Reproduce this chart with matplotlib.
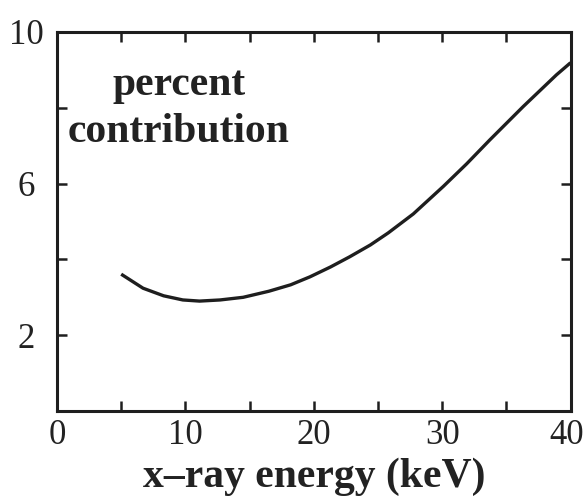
import matplotlib
matplotlib.use("Agg")
import matplotlib.pyplot as plt
from matplotlib.transforms import ScaledTranslation

# Data
energy_kev = [5.0, 6.7, 8.3, 9.8, 11.1, 12.7, 14.5, 16.5, 18.2, 19.7, 21.3,
              22.8, 24.4, 25.8, 27.75, 30.1, 31.9, 33.7, 36.3, 38.9, 40.0]
percent = [3.61, 3.24, 3.04, 2.93, 2.90, 2.93, 3.00, 3.16, 3.33, 3.54, 3.80,
           4.07, 4.38, 4.70, 5.20, 5.93, 6.52, 7.15, 8.03, 8.87, 9.19]

x_ticks = [0, 5, 10, 15, 20, 25, 30, 35, 40]
x_ticklabels = ["0", "", "10", "", "20", "", "30", "", "40"]
y_ticks = [0, 2, 4, 6, 8, 10]
y_ticklabels = ["", "2", "", "6", "", "10"]

plt.rcParams['font.family'] = ['Liberation Serif', 'DejaVu Serif']

fig = plt.figure(figsize=(5.86, 5.03), dpi=100)
ax = fig.add_axes([57/586, 1 - 411/503, (570.6-57)/586, (411-32)/503])

ax.plot(energy_kev, percent, color='#1e1e1e', lw=2.4, solid_capstyle='butt',
        solid_joinstyle='round')

ax.set_xlim(0, 40)
ax.set_ylim(0, 10)
ax.set_xticks(x_ticks)
ax.set_xticklabels(x_ticklabels, fontsize=25)
ax.set_yticks(y_ticks)
ax.set_yticklabels(y_ticklabels, fontsize=25, ha='center')

ax.tick_params(axis='x', direction='in', length=7.5, width=1.8, top=True, bottom=True,
               pad=6, colors='#1e1e1e', labelcolor='#222222')
ax.tick_params(axis='y', direction='in', length=7.5, width=1.8, left=True, right=True,
               pad=22, colors='#1e1e1e', labelcolor='#222222')

# nudge the last x tick label slightly left so it stays inside the figure
last_lbl = ax.xaxis.get_major_ticks()[-1].label1
last_lbl.set_transform(last_lbl.get_transform() +
                       ScaledTranslation(-4/100, 0, fig.dpi_scale_trans))

for s in ax.spines.values():
    s.set_linewidth(2.2)
    s.set_color('#1e1e1e')

ax.text(9.5, 8.33, "percent", ha='center', va='baseline', fontsize=30,
        fontweight='bold', color='#222222')
ax.text(9.5, 7.10, "contribution", ha='center', va='baseline', fontsize=30,
        fontweight='bold', color='#222222')

ax.set_xlabel("x\u2013ray energy (keV)", fontsize=30, fontweight='bold',
              color='#222222', labelpad=4)

fig.savefig("out.png", dpi=100, facecolor='white')
